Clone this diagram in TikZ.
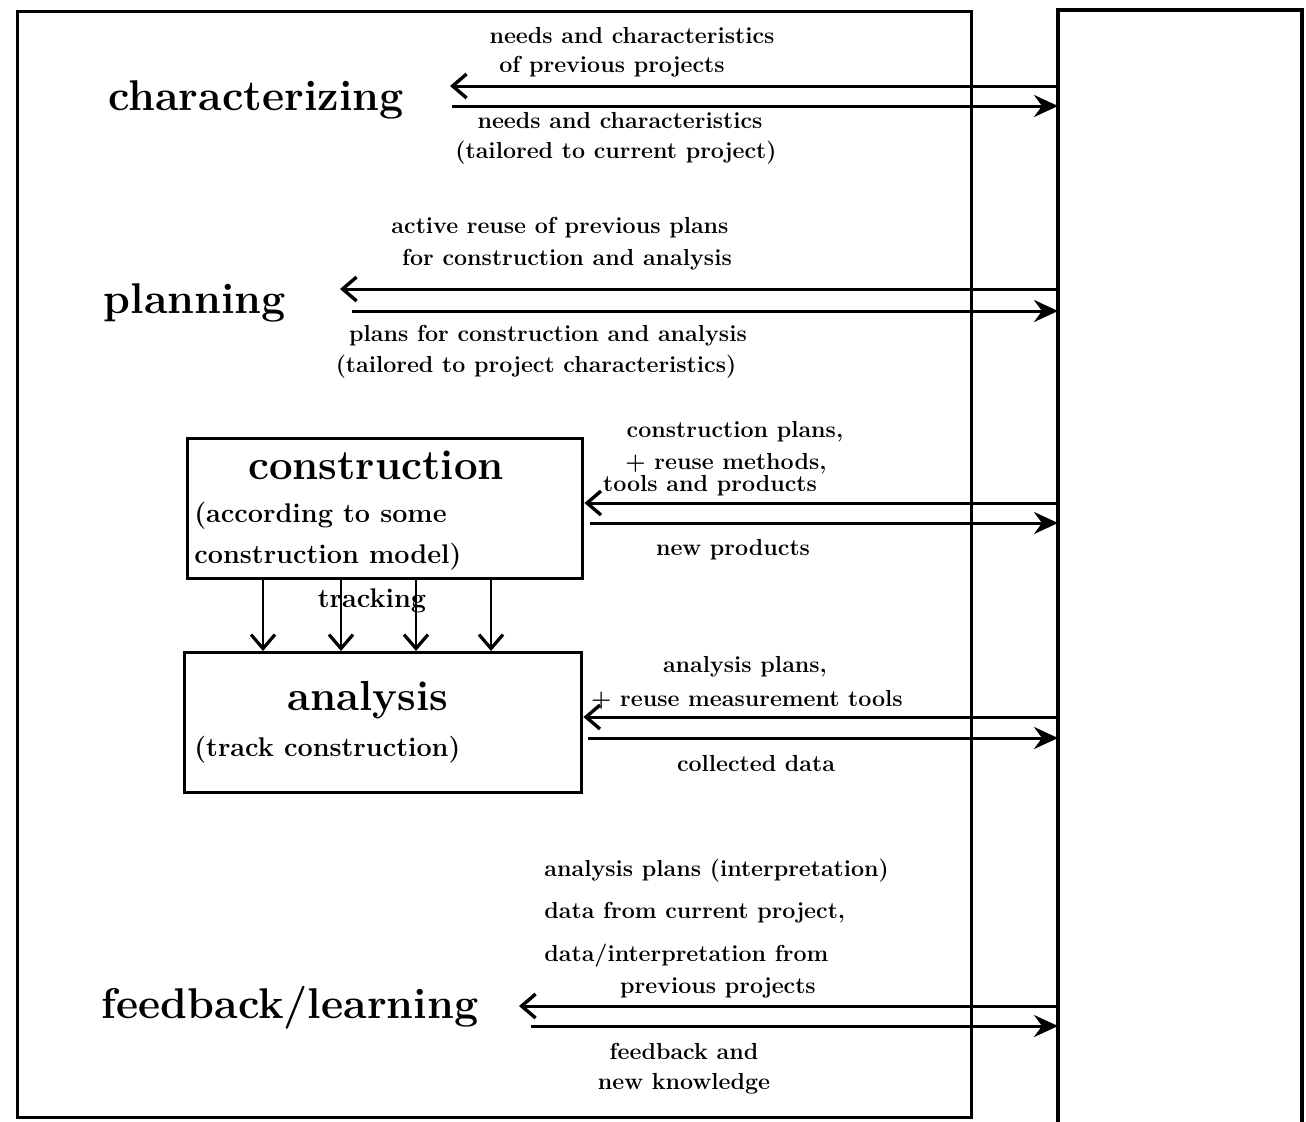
\documentclass[tikz,border=0pt]{standalone}
\usetikzlibrary{arrows.meta}
\newcommand\labf{\fontsize{11.6}{13}\selectfont\bfseries}
\newcommand\boxf{\fontsize{13.5}{15}\selectfont\bfseries}
\newcommand\bigf{\fontsize{21}{24}\selectfont\bfseries}
\newcommand\headf{\fontsize{21.5}{24}\selectfont\bfseries}
\begin{document}
\begin{tikzpicture}[x=0.5pt,y=-0.5pt,
  frame/.style={draw,line width=1.7pt},
  lab/.style={font=\labf,inner sep=0pt},
  boxtxt/.style={font=\boxf,inner sep=0pt},
  bigtxt/.style={font=\bigf,inner sep=0pt},
  head/.style={font=\headf,inner sep=0pt},
  toleft/.style={line width=1.5pt,-{Straight Barb[length=7pt,width=12pt,line width=1.7pt]}},
  toright/.style={line width=1.5pt,-{Stealth[length=12pt,width=11pt,inset=4pt]}},
  trk/.style={line width=1.4pt,-{Straight Barb[length=7pt,width=12pt,line width=1.6pt]}}]
\useasboundingbox (0,0) rectangle (1306,1121);
% main frame
\node[frame,anchor=north west,minimum width=477pt,minimum height=553pt,inner sep=0pt] (main) at (16,10) {};
% knowledge frame (open at bottom)
\coordinate (kbTL) at (1058,10);
\coordinate (kbTR) at (1302,10);
\draw[line width=1.7pt] (1058,1125) -- (kbTL) -- (kbTR) -- (1302,1125);

% characterizing
\node[head] (char) at (256,100) {characterizing};
\node[lab] (c1) at (632,36) {needs and characteristics};
\node[lab] (c2) at (612,67) {of previous projects};
\node[lab] (c3) at (620,121) {needs and characteristics};
\node[lab] (c4) at (616,153) {(tailored to current project)};
\coordinate (cL) at (450,86);
\coordinate (cR) at (452,106);
\draw[toleft] (kbTL |- cL) -- (cL);
\draw[toright] (cR) -- (kbTL |- cR);

% planning
\node[head] (plan) at (195,303) {planning};
\node[lab] (p1) at (560,228) {active reuse of previous plans};
\node[lab] (p2) at (567,260) {for construction and analysis};
\node[lab] (p3) at (548,336) {plans for construction and analysis};
\node[lab] (p4) at (536,367) {(tailored to project characteristics)};
\coordinate (pL) at (340,289);
\coordinate (pR) at (352,311);
\draw[toleft] (kbTL |- pL) -- (pL);
\draw[toright] (pR) -- (kbTL |- pR);

% construction box
\node[frame,anchor=north west,minimum width=197.5pt,minimum height=70pt,inner sep=0pt] (cons) at (186,437) {};
\node[bigtxt] (consT) at (376,465) {construction};
\node[boxtxt,anchor=west] (consA) at (194,516) {(according to some};
\node[boxtxt,anchor=west] (consB) at (194,557) {construction model)};
\node[lab] (k1) at (735,432) {construction plans,};
\node[lab] (k2) at (726,464) {+ reuse methods,};
\node[lab] (k3) at (710,486) {tools and products};
\node[lab] (k4) at (733,550) {new products};
\coordinate (kL) at (581,503);
\coordinate (kR) at (590,523);
\draw[toleft] (kbTL |- kL) -- (cons.east |- kL);
\draw[toright] (kR) -- (kbTL |- kR);

% analysis box
\node[frame,anchor=north west,minimum width=198.5pt,minimum height=70pt,inner sep=0pt] (ana) at (183,651) {};
\node[bigtxt] (anaT) at (368,700) {analysis};
\node[boxtxt,anchor=west] (anaA) at (194,750) {(track construction)};
\node[lab] (a1) at (745,667) {analysis plans,};
\node[lab] (a2) at (747,700) {+ reuse measurement tools};
\node[lab] (a3) at (756,764) {collected data};
\coordinate (aL) at (580,717);
\coordinate (aR) at (588,738);
\draw[toleft] (kbTL |- aL) -- (ana.east |- aL);
\draw[toright] (aR) -- (kbTL |- aR);

% tracking
\node[boxtxt] (track) at (372,601) {tracking};
\foreach \xx [count=\i] in {263,341,416,491}{
  \coordinate (t\i) at (\xx,0);
  \draw[trk] (cons.south -| t\i) -- (ana.north -| t\i);
}

% feedback/learning
\node[head] (fb) at (290,1008) {feedback/learning};
\node[lab,anchor=west] (f1) at (544,871) {analysis plans (interpretation)};
\node[lab,anchor=west] (f2) at (544,913) {data from current project,};
\node[lab,anchor=west] (f3) at (544,956) {data/interpretation from};
\node[lab] (f4) at (718,988) {previous projects};
\node[lab] (f5) at (684,1051) {feedback and};
\node[lab] (f6) at (684,1084) {new knowledge};
\coordinate (fL) at (519,1006);
\coordinate (fR) at (531,1026);
\draw[toleft] (kbTL |- fL) -- (fL);
\draw[toright] (fR) -- (kbTL |- fR);
\end{tikzpicture}
\end{document}
